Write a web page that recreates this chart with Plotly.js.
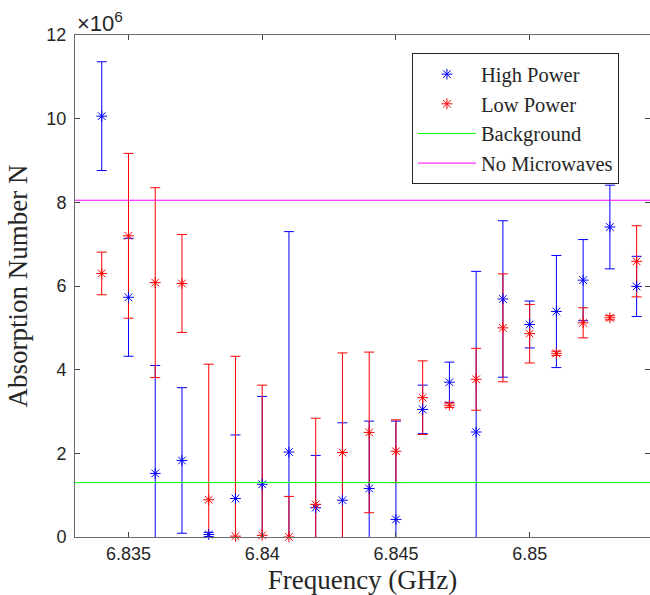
<!DOCTYPE html>
<html>
<head>
<meta charset="utf-8">
<script src="https://cdn.plot.ly/plotly-3.0.1.min.js"></script>
<style>html,body{margin:0;padding:0;background:#fff;}#chart{width:650px;height:595px;}</style>
</head>
<body>
<div id="chart"></div>
<script>
// Frequencies (GHz)
const freq = [6.834, 6.835, 6.836, 6.837, 6.838, 6.839, 6.840, 6.841, 6.842, 6.843, 6.844,
              6.845, 6.846, 6.847, 6.848, 6.849, 6.850, 6.851, 6.852, 6.853, 6.854];
// Absorption number N, in units of 10^6
const highPower = [10.06, 5.73, 1.52, 1.83, 0.06, 0.92, 1.26, 2.03, 0.70, 0.88, 1.16,
                   0.42, 3.05, 3.70, 2.51, 5.69, 5.08, 5.39, 6.14, 7.41, 5.99];
const highErr   = [1.30, 1.41, 2.58, 1.74, 0.05, 1.52, 2.10, 5.27, 1.25, 1.85, 1.61,
                   2.35, 0.58, 0.48, 3.84, 1.87, 0.56, 1.34, 0.97, 1.00, 0.72];
const lowPower  = [6.30, 7.20, 6.08, 6.06, 0.89, 0.02, 0.04, 0.00, 0.78, 2.02, 2.50,
                   2.05, 3.33, 3.15, 3.77, 5.00, 4.86, 4.39, 5.12, 5.24, 6.59];
const lowErr    = [0.51, 1.97, 2.27, 1.17, 3.24, 4.30, 3.59, 0.97, 2.06, 2.38, 1.92,
                   0.75, 0.88, 0.05, 0.74, 1.29, 0.70, 0.05, 0.36, 0.05, 0.85];
const lineX = [6.833, 6.8545];
const background = [1.30, 1.30];
const noMicrowaves = [8.05, 8.05];
const xTicks = [6.835, 6.84, 6.845, 6.85];
const xTickText = ['6.835', '6.84', '6.845', '6.85'];
const yTicks = [0, 2, 4, 6, 8, 10, 12];

const BLUE = '#0000ff', RED = '#ff0000';
const serif = '"Liberation Serif", "Times New Roman", serif';
const sans = '"Liberation Sans", Arial, Helvetica, sans-serif';

function errTrace(y, err, color) {
  return {
    x: freq, y: y, type: 'scatter', mode: 'markers', showlegend: false, hoverinfo: 'skip',
    marker: {size: 1, color: 'rgba(0,0,0,0)'},
    error_y: {type: 'data', array: err, visible: true, color: color, thickness: 1, width: 5},
    cliponaxis: true
  };
}
function markTrace(y, color, name) {
  return {
    x: freq, y: y, type: 'scatter', mode: 'markers', name: name,
    marker: {symbol: 'asterisk-open', size: 9, color: color, line: {color: color, width: 1}},
    cliponaxis: false
  };
}

const data = [
  errTrace(highPower, highErr, BLUE),
  errTrace(lowPower, lowErr, RED),
  markTrace(highPower, BLUE, 'High Power'),
  markTrace(lowPower, RED, 'Low Power'),
  {x: lineX, y: background, type: 'scatter', mode: 'lines', name: 'Background',
   line: {color: '#00ff00', width: 1}},
  {x: lineX, y: noMicrowaves, type: 'scatter', mode: 'lines', name: 'No Microwaves',
   line: {color: '#ff00ff', width: 1}},
  {x: lineX, y: [0, 0], type: 'scatter', mode: 'lines', yaxis: 'y2', showlegend: false,
   hoverinfo: 'skip', line: {color: 'rgba(0,0,0,0)', width: 0}}
];

const axisCommon = {
  showgrid: false, zeroline: false, showline: true, linecolor: '#6a6a6a', linewidth: 1,
  ticks: 'inside', ticklen: 5, tickcolor: '#444', tickwidth: 1,
  tickfont: {family: sans, size: 18, color: '#262626'}
};

const layout = {
  width: 650, height: 595,
  margin: {l: 75, r: 0, t: 35, b: 58, pad: 0},
  paper_bgcolor: '#ffffff', plot_bgcolor: '#ffffff',
  showlegend: true,
  xaxis: Object.assign({}, axisCommon, {
    range: [6.833, 6.8545], tickvals: xTicks, ticktext: xTickText, mirror: 'ticks',
    title: {text: 'Frequency (GHz)', font: {family: serif, size: 27, color: '#262626'}, standoff: 7}
  }),
  yaxis: Object.assign({}, axisCommon, {
    range: [0, 12], tickvals: yTicks, ticklabelstandoff: 4,
    title: {text: 'Absorption Number N', font: {family: serif, size: 27, color: '#262626'}, standoff: 10}
  }),
  yaxis2: {
    overlaying: 'y', side: 'right', range: [0, 12], tickvals: yTicks, showticklabels: false,
    showline: false, showgrid: false, zeroline: false, ticks: 'inside', ticklen: 5, tickcolor: '#444'
  },
  legend: {
    x: 0.586, y: 0.9635, xanchor: 'left', yanchor: 'top',
    bgcolor: '#ffffff', bordercolor: '#262626', borderwidth: 1,
    font: {family: serif, size: 20.5, color: '#262626'},
    itemwidth: 58, tracegroupgap: 0
  },
  annotations: [{
    xref: 'paper', yref: 'paper', x: 0, y: 1, xanchor: 'left', yanchor: 'bottom',
    xshift: 0, yshift: -3, showarrow: false,
    text: '×10<sup>6</sup>', font: {family: sans, size: 22, color: '#262626'}
  }]
};

Plotly.newPlot('chart', data, layout, {displayModeBar: false, staticPlot: true});
</script>
</body>
</html>
